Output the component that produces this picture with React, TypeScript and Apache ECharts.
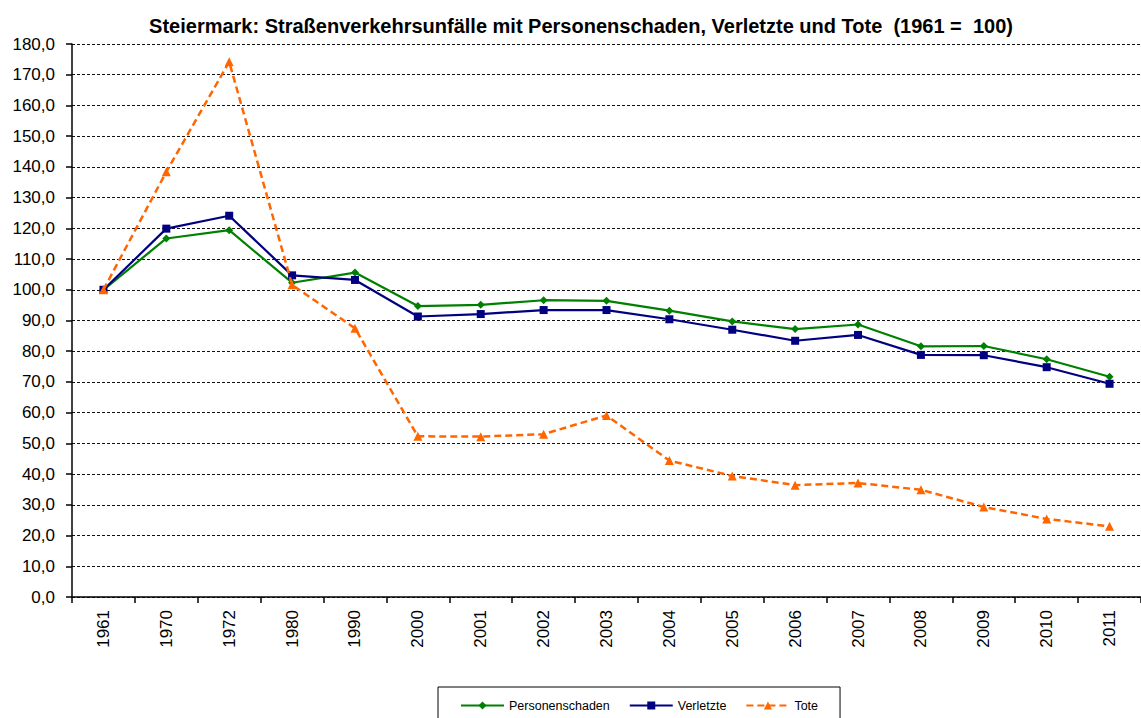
import React, { useEffect, useRef } from "react";
import * as echarts from "echarts";

const titleText = "Steiermark: Straßenverkehrsunfälle mit Personenschaden, Verletzte und Tote  (1961 =  100)";
const years = ["1961", "1970", "1972", "1980", "1990", "2000", "2001", "2002", "2003", "2004", "2005", "2006", "2007", "2008", "2009", "2010", "2011"];
const personenschaden = [100, 116.7, 119.4, 102.3, 105.6, 94.7, 95.1, 96.6, 96.4, 93.2, 89.7, 87.2, 88.7, 81.6, 81.7, 77.4, 71.7];
const verletzte = [100, 119.9, 124.1, 104.7, 103.2, 91.3, 92.1, 93.4, 93.4, 90.4, 87.0, 83.4, 85.3, 78.8, 78.7, 74.8, 69.4];
const tote = [100, 138.4, 174.2, 101.6, 87.5, 52.3, 52.2, 53.0, 59.1, 44.4, 39.4, 36.4, 37.1, 34.9, 29.3, 25.4, 23.0];

const FONT = "'Liberation Sans', Arial, sans-serif";

export default function App() {
  const ref = useRef<HTMLDivElement>(null);
  useEffect(() => {
    document.body.style.margin = "0";
    document.body.style.overflow = "hidden";
    const chart = echarts.init(ref.current!, null, { renderer: "svg" });
    chart.setOption({
      animation: false,
      backgroundColor: "#ffffff",
      title: {
        text: titleText,
        left: 576,
        top: 11,
        textAlign: "center",
        textStyle: { fontFamily: FONT, fontSize: 20, fontWeight: "bold", color: "#000" },
      },
      legend: {
        top: 687,
        left: 438,
        padding: [12, 22, 12, 22],
        borderColor: "#000",
        borderWidth: 1,
        itemWidth: 43,
        itemHeight: 10,
        itemGap: 19,
        textStyle: { fontFamily: FONT, fontSize: 12.5, color: "#000" },
        data: ["Personenschaden", "Verletzte", "Tote"],
      },
      grid: { left: 72, top: 44, bottom: 121, right: -7, containLabel: false },
      xAxis: {
        type: "category",
        data: years,
        boundaryGap: true,
        axisLine: { lineStyle: { color: "#000", width: 1.5 } },
        axisTick: { show: true, length: 6, interval: 0, lineStyle: { color: "#000", width: 1.5 } },
        axisLabel: { rotate: 90, margin: 13, interval: 0, fontFamily: FONT, fontSize: 17, color: "#000" },
        splitLine: { show: false },
      },
      yAxis: {
        type: "value",
        min: 0,
        max: 180,
        interval: 10,
        axisLine: { show: true, lineStyle: { color: "#000", width: 1.5 } },
        axisTick: { show: true, length: 6, lineStyle: { color: "#000", width: 1.5 } },
        axisLabel: {
          margin: 17,
          fontFamily: FONT,
          fontSize: 17,
          color: "#000",
          formatter: (v: number) => v.toFixed(1).replace(".", ","),
        },
        splitLine: { show: true, lineStyle: { color: "#111", width: 1, type: [3, 2] } },
      },
      series: [
        {
          name: "Personenschaden",
          type: "line",
          data: personenschaden,
          color: "#008000",
          symbol: "diamond",
          symbolSize: 8,
          showAllSymbol: true,
          lineStyle: { width: 2.2, color: "#008000" },
          itemStyle: { color: "#008000" },
          z: 3,
        },
        {
          name: "Verletzte",
          type: "line",
          data: verletzte,
          color: "#000080",
          symbol: "rect",
          symbolSize: 8,
          showAllSymbol: true,
          lineStyle: { width: 2.2, color: "#000080" },
          itemStyle: { color: "#000080" },
          z: 4,
        },
        {
          name: "Tote",
          type: "line",
          data: tote,
          color: "#ff6600",
          symbol: "triangle",
          symbolSize: 9,
          showAllSymbol: true,
          lineStyle: { width: 2.5, color: "#ff6600", type: [7, 4] },
          itemStyle: { color: "#ff6600" },
          z: 5,
        },
      ],
    });
    return () => chart.dispose();
  }, []);
  return <div ref={ref} style={{ width: 1141, height: 718, position: "absolute", left: 0, top: 0 }} />;
}
